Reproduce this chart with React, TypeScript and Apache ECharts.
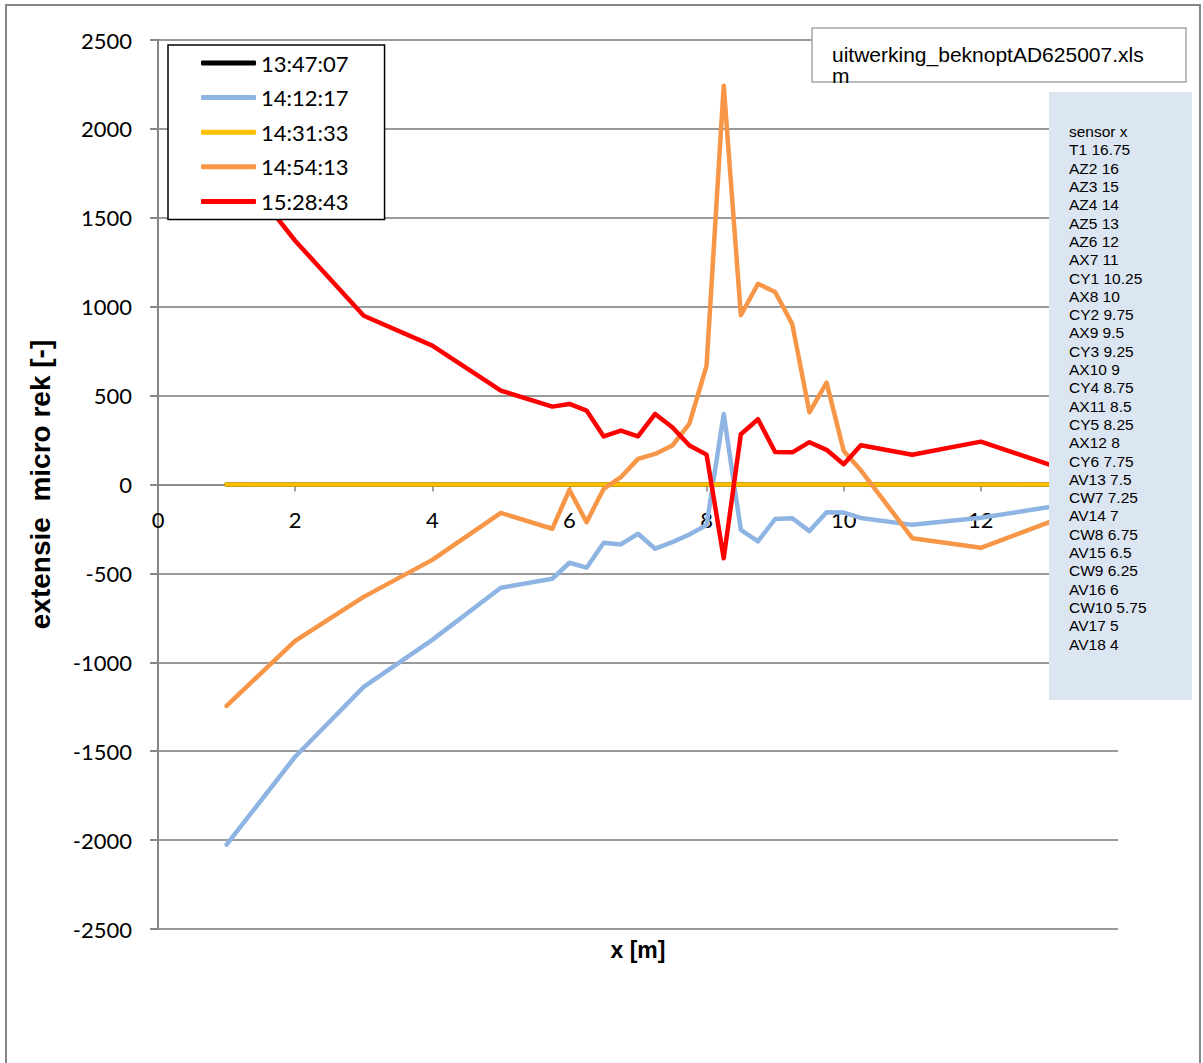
import React, { useEffect, useRef } from "react";
import * as echarts from "echarts";

// x positions [m] of the measurement points
const xPositions = [1, 2, 3, 4, 5, 5.75, 6, 6.25, 6.5, 6.75, 7, 7.25, 7.5, 7.75, 8, 8.25, 8.5, 8.75, 9, 9.25, 9.5, 9.75, 10, 10.25, 11, 12, 13];

const seriesNames = ["13:47:07", "14:12:17", "14:31:33", "14:54:13", "15:28:43"];
const seriesColors = ["#000000", "#8eb4e3", "#ffc000", "#f79646", "#ff0000"];

const values1347 = [0, 0, 0, 0, 0, 0, 0, 0, 0, 0, 0, 0, 0, 0, 0, 0, 0, 0, 0, 0, 0, 0, 0, 0, 0, 0, 0];
const values1412 = [-2026, -1531, -1138, -874, -581, -530, -440, -468, -328, -337, -277, -361, -324, -281, -228, 396, -255, -320, -194, -190, -262, -156, -158, -188, -227, -187, -127];
const values1431 = [0, 0, 0, 0, 0, 0, 0, 0, 0, 0, 0, 0, 0, 0, 0, 0, 0, 0, 0, 0, 0, 0, 0, 0, 0, 0, 0];
const values1454 = [-1245, -879, -632, -424, -160, -249, -30, -212, -24, 41, 144, 172, 219, 343, 668, 2243, 952, 1129, 1083, 902, 406, 573, 189, 80, -302, -356, -212];
const values1528 = [1860, 1371, 949, 781, 528, 438, 453, 416, 270, 303, 271, 397, 322, 219, 168, -415, 283, 367, 183, 181, 238, 195, 114, 221, 167, 241, 112];

const yMin = -2500;
const yMax = 2500;
const yStep = 500;
const xMin = 0;
const xMax = 14;
const xStep = 2;

const sensorNames = ["T1", "AZ2", "AZ3", "AZ4", "AZ5", "AZ6", "AX7", "CY1", "AX8", "CY2", "AX9", "CY3", "AX10", "CY4", "AX11", "CY5", "AX12", "CY6", "AV13", "CW7", "AV14", "CW8", "AV15", "CW9", "AV16", "CW10", "AV17", "AV18"];
const sensorX = ["16.75", "16", "15", "14", "13", "12", "11", "10.25", "10", "9.75", "9.5", "9.25", "9", "8.75", "8.5", "8.25", "8", "7.75", "7.5", "7.25", "7", "6.75", "6.5", "6.25", "6", "5.75", "5", "4"];

const fileLabel = "uitwerking_beknoptAD625007.xls\nm";
const xTitle = "x [m]";
const yTitle = "extensie  micro rek [-]";

const allValues = [values1347, values1412, values1431, values1454, values1528];

// layout
const GRID_TOP = 40;
const GRID_BOTTOM = 134;
const CHART_H = 1063;

export default function App() {
  const ref = useRef<HTMLDivElement>(null);

  useEffect(() => {
    if (!ref.current) return;
    const chart = echarts.init(ref.current, undefined, { renderer: "svg" });

    const series = seriesNames.map((name, si) => ({
      name,
      type: "line",
      symbol: "none",
      showSymbol: false,
      data: xPositions.map((x, i) => [x, allValues[si][i]]),
      lineStyle: { width: 4.5, color: seriesColors[si], cap: "round", join: "round" },
      itemStyle: { color: seriesColors[si] },
      z: 2 + si * 0.01,
    }));

    const sensorText = ["sensor x", ...sensorNames.map((n, i) => `${n} ${sensorX[i]}`)].join("\n");

    // place the x axis on the y = 0 line (distance from plot bottom to zero)
    const plotH = CHART_H - GRID_TOP - GRID_BOTTOM;
    const zeroOffset = -plotH * ((0 - yMin) / (yMax - yMin));

    chart.setOption({
      animation: false,
      backgroundColor: "#ffffff",
      grid: { left: 158, right: 85, top: GRID_TOP, bottom: GRID_BOTTOM, containLabel: false, outerBoundsMode: "none" },
      legend: {
        orient: "vertical",
        left: 168,
        top: 45,
        padding: [5, 36, 5, 33],
        icon: "roundRect",
        itemWidth: 55,
        itemHeight: 5,
        itemGap: 8.6,
        backgroundColor: "#ffffff",
        borderColor: "#000000",
        borderWidth: 1.5,
        textStyle: { fontSize: 22, lineHeight: 26, color: "#000", fontFamily: "Lato" },
        data: seriesNames,
      },
      xAxis: {
        type: "value",
        min: xMin,
        max: xMax,
        interval: xStep,
        position: "bottom",
        offset: zeroOffset,
        axisLine: { show: true, onZero: false, lineStyle: { color: "#868686", width: 1.5 } },
        axisTick: { show: true, length: 7, lineStyle: { color: "#868686", width: 1.5 } },
        axisLabel: {
          margin: 24,
          fontSize: 22,
          color: "#000",
          fontFamily: "Lato",
          showMaxLabel: false,
          formatter: (v: number) => String(v),
        },
        splitLine: { show: false },
        name: xTitle,
        nameLocation: "middle",
        nameGap: 454,
        nameTextStyle: { fontWeight: "bold", fontSize: 23, color: "#000", fontFamily: "Liberation Sans" },
      },
      yAxis: {
        type: "value",
        min: yMin,
        max: yMax,
        interval: yStep,
        axisLine: { show: true, onZero: false, lineStyle: { color: "#868686", width: 2 } },
        axisTick: { show: true, length: 8, lineStyle: { color: "#868686", width: 2 } },
        axisLabel: {
          margin: 26,
          fontSize: 22,
          color: "#000",
          fontFamily: "Lato",
          formatter: (v: number) => String(v),
        },
        splitLine: { show: true, lineStyle: { color: "#9a9a9a", width: 2 } },
        name: yTitle,
        nameLocation: "middle",
        nameRotate: 90,
        nameGap: 104,
        nameTextStyle: { fontWeight: "bold", fontSize: 28, color: "#000", fontFamily: "Liberation Sans" },
      },
      series,
      graphic: [
        {
          type: "rect",
          z: 0,
          silent: true,
          shape: { x: 6, y: 5, width: 1194, height: 1064 },
          style: { fill: "none", stroke: "#868686", lineWidth: 2 },
        },
        {
          type: "rect",
          z: 100,
          silent: true,
          shape: { x: 812, y: 28, width: 374, height: 54 },
          style: { fill: "#ffffff", stroke: "#a6a6a6", lineWidth: 1.5 },
        },
        {
          type: "text",
          z: 101,
          silent: true,
          x: 832,
          y: 44,
          style: {
            text: fileLabel,
            fontSize: 21,
            lineHeight: 21,
            fontFamily: "Liberation Sans",
            fill: "#000",
            verticalAlign: "top",
          },
        },
        {
          type: "rect",
          z: 100,
          silent: true,
          shape: { x: 1049, y: 92, width: 143, height: 608 },
          style: { fill: "#dce6f2", stroke: "none" },
        },
        {
          type: "text",
          z: 101,
          silent: true,
          x: 1069,
          y: 122.5,
          style: {
            text: sensorText,
            fontSize: 15.5,
            lineHeight: 18.3,
            fontFamily: "Liberation Sans",
            fill: "#000",
            verticalAlign: "top",
          },
        },
      ],
    });

    return () => chart.dispose();
  }, []);

  return (
    <div
      ref={ref}
      style={{ position: "absolute", left: 0, top: 0, width: 1203, height: 1063, background: "#fff" }}
    />
  );
}
